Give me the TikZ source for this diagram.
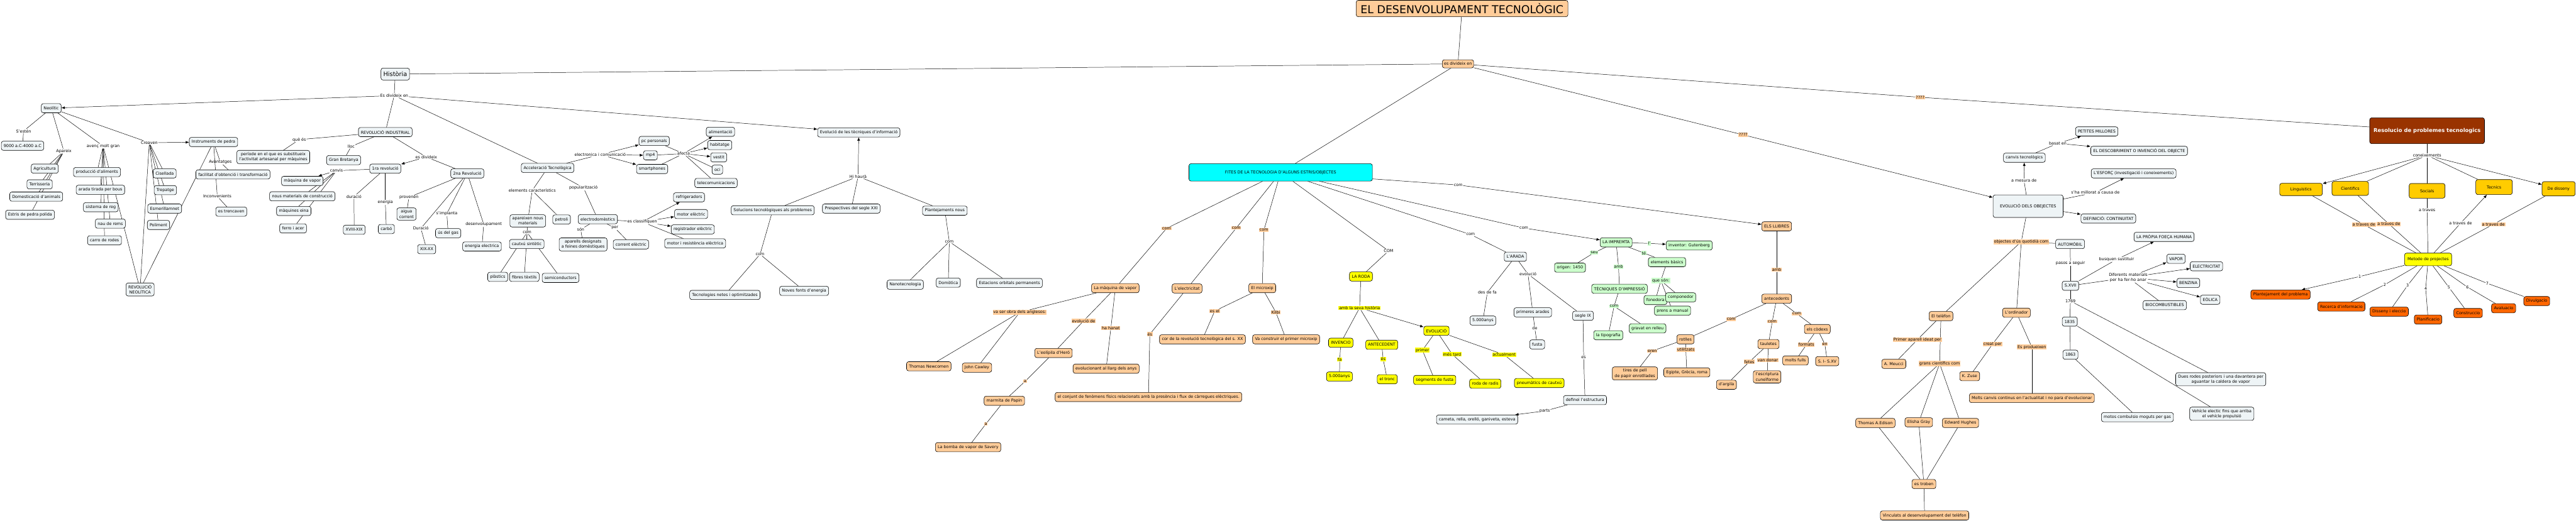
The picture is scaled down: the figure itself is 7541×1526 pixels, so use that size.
\documentclass[tikz,border=0pt]{standalone}
\usepackage{fontspec}
\setmainfont{DejaVu Sans}
\usetikzlibrary{arrows.meta,backgrounds}
\definecolor{colBlue}{HTML}{EEF4F6}
\definecolor{colPeach}{HTML}{FFCC99}
\definecolor{colYel}{HTML}{FFFF00}
\definecolor{colGreen}{HTML}{CCFFCC}
\definecolor{colCyan}{HTML}{00FFFF}
\definecolor{colBrown}{HTML}{993300}
\definecolor{colGold}{HTML}{FFCC00}
\definecolor{colOrange}{HTML}{FF6600}
\tikzset{cpt/.style={draw,line width=1.1pt,rounded corners=6pt,fill=colBlue,align=center,inner xsep=7pt,inner ysep=6pt,minimum height=27pt,font=\fontsize{11.8}{15}\selectfont},
  pch/.style={cpt,fill=colPeach},
  yel/.style={cpt,fill=colYel},
  grn/.style={cpt,fill=colGreen},
  gold/.style={cpt,fill=colGold,minimum height=41pt},
  stepbox/.style={cpt,fill=colOrange},
  lbl/.style={inner sep=1.5pt,align=center,font=\fontsize{11.8}{15}\selectfont},
  lpch/.style={lbl,fill=colPeach},
  lyel/.style={lbl,fill=colYel},
  lgrn/.style={lbl,fill=colGreen},
  arr/.style={-{Latex[length=10pt,width=8pt]}}
}
\begin{document}
\begin{tikzpicture}[x=1pt,y=-1pt]
  \useasboundingbox (0,0) rectangle (7541,1526);

  % Historia
  \node[cpt,font=\fontsize{18}{21}\selectfont,minimum height=35pt] (hist) at (1157,217) {Història};
  \node[lbl] (ldiv) at (1154,280) {Es divideix en};

  % Neolitic
  \node[cpt] (neo) at (150,317) {Neolític};
  \node[lbl] (lsest) at (69,384) {S'estén};
  \node[cpt] (d9000) at (66,427) {9000 a.C-4000 a.C};
  \node[lbl] (lapar) at (187,443) {Apareix};
  \node[lbl] (lavenc) at (302,428) {avenç molt gran};
  \node[lbl] (lcrea) at (437,418) {Creaven};
  \node[cpt] (instr) at (625,416) {Instruments de pedra};
  \node[cpt] (agri) at (131,494) {Agricultura};
  \node[cpt] (terr) at (116,540) {Terrisseria};
  \node[cpt] (dome) at (106,576) {Domesticació d'animals};
  \node[cpt] (estr) at (88,629) {Estris de pedra polida};
  \node[cpt] (prod) at (284,504) {producció d'aliments};
  \node[cpt] (arada) at (294,556) {arada tirada per bous};
  \node[cpt] (reg) at (295,607) {sistema de reg};
  \node[cpt] (nau) at (323,655) {nau de rems};
  \node[cpt] (carro) at (306,704) {carro de rodes};
  \node[cpt] (cis) at (482,508) {Cisellada};
  \node[cpt] (trep) at (484,557) {Trepatge};
  \node[cpt] (esm) at (482,611) {Esmerillamnet};
  \node[cpt] (poli) at (464,659) {Poliment};
  \node[lbl] (lavan) at (645,475) {Avantatges};
  \node[cpt] (facil) at (682,511) {facilitat d'obtenció i transformació};
  \node[lbl] (linc) at (636,575) {Inconvenients};
  \node[cpt] (trenc) at (677,620) {es trencaven};
  \node[cpt] (revneo) at (410,848) {REVOLUCIÓ\\NEOLÍTICA};

  % Revolucio industrial
  \node[cpt] (revind) at (1128,387) {REVOLUCIÓ INDUSTRIAL};
  \node[lbl] (lque) at (876,409) {què és};
  \node[cpt] (period) at (800,460) {període en el que es substitueix\\l'activitat artesanal per màquines};
  \node[lbl] (lloc) at (1028,429) {lloc};
  \node[cpt] (gran) at (1006,469) {Gran Bretanya};
  \node[lbl] (ldiv2) at (1248,460) {es divideix};
  \node[cpt] (rev1) at (1128,494) {1ra revolució};
  \node[lbl] (lcanv) at (985,500) {canvis};
  \node[cpt] (maqv) at (885,530) {màquina de vapor};
  \node[cpt] (nousm) at (885,575) {nous materials de construcció};
  \node[cpt] (maqe) at (860,618) {màquines eina};
  \node[cpt] (ferro) at (858,669) {ferro i acer};
  \node[lbl] (ldur) at (1036,576) {duració};
  \node[cpt] (xviii) at (1037,673) {XVIII-XIX};
  \node[lbl] (lener) at (1128,593) {energia};
  \node[cpt] (carbo) at (1131,671) {carbó};
  \node[cpt] (rev2) at (1368,508) {2na Revolució};
  \node[lbl] (lprov) at (1197,578) {provenen};
  \node[cpt] (aigua) at (1190,627) {aigua\\corrent};
  \node[lbl] (ldur2) at (1232,669) {Duració};
  \node[cpt] (xix) at (1249,730) {XIX-XX};
  \node[lbl] (limpl) at (1308,626) {s'implanta};
  \node[cpt] (gas) at (1312,683) {ús del gas};
  \node[lbl] (ldes) at (1416,657) {desenvolupament};
  \node[cpt] (enel) at (1411,722) {energia electrica};

  % Acceleracio tecnologica
  \node[cpt] (accel) at (1603,492) {Acceleració Tecnològica};
  \node[lbl] (lelem) at (1558,558) {elements característics};
  \node[lbl] (lpop) at (1708,550) {popularització};
  \node[cpt] (apar) at (1545,647) {apareixen nous\\materials};
  \node[cpt] (petr) at (1644,643) {petroli};
  \node[lbl] (lcom1) at (1543,681) {com};
  \node[cpt] (caut) at (1542,715) {cautxú sintètic};
  \node[cpt] (plas) at (1457,811) {plàstics};
  \node[cpt] (fibr) at (1535,811) {fibres tèxtils};
  \node[cpt] (semi) at (1641,814) {semiconductors};
  \node[cpt] (elec) at (1750,642) {electrodomèstics};
  \node[lbl] (lson) at (1700,672) {són};
  \node[lbl] (lper) at (1800,668) {per};
  \node[cpt] (apare) at (1707,716) {aparells designats\\a feines domèstiques};
  \node[cpt] (corr) at (1847,716) {corrent elèctric};
  \node[lbl] (lclas) at (1880,650) {es classifiquen};
  \node[cpt] (refr) at (2017,578) {refrigeradors};
  \node[cpt] (motor) at (2023,627) {motor elèctric};
  \node[cpt] (regi) at (2028,672) {registrador elèctric};
  \node[cpt] (motr) at (2035,713) {motor i resistència elèctrica};
  \node[lbl] (lelecom) at (1757,453) {electronica i comunicació};
  \node[cpt] (pc) at (1915,413) {pc personals};
  \node[cpt] (mp) at (1904,455) {mp4};
  \node[cpt] (smart) at (1909,495) {smartphones};
  \node[lbl] (lafec) at (2001,450) {afecta};
  \node[cpt] (alim) at (2109,386) {alimentació};
  \node[cpt] (habi) at (2107,425) {habitatge};
  \node[cpt] (vest) at (2104,461) {vestit};
  \node[cpt] (oci) at (2100,497) {oci};
  \node[cpt] (tele) at (2096,536) {telecomunicacions};

  % Evolucio de les tecniques
  \node[cpt] (evtec) at (2514,388) {Evolució de les tècniques d'informació};
  \node[lbl] (lhi) at (2512,517) {Hi haurà};
  \node[cpt] (solu) at (2262,616) {Solucions tecnològiques als problemes};
  \node[cpt] (pers) at (2492,611) {Prespectives del segle XXI};
  \node[cpt] (plan) at (2766,617) {Plantejaments nous};
  \node[lbl] (lcom2) at (2225,745) {com};
  \node[cpt] (netes) at (2122,864) {Tecnologies netes i optimitzades};
  \node[cpt] (noves) at (2354,852) {Noves fonts d'energia};
  \node[lbl] (lcom3) at (2779,708) {com};
  \node[cpt] (nano) at (2650,834) {Nanotecnologia};
  \node[cpt] (domo) at (2776,828) {Domòtica};
  \node[cpt] (estac) at (2955,829) {Estacions orbitals permanents};

  % Title
  \node[pch,font=\fontsize{32}{36}\selectfont,minimum width=620pt,minimum height=48pt] (title) at (4280,25) {EL DESENVOLUPAMENT TECNOLÒGIC};
  \node[pch,minimum height=24pt,inner xsep=5pt] (div) at (4268,187) {es divideix en};

  % Fites
  \node[cpt,fill=colCyan,minimum width=537pt,minimum height=51pt] (fites) at (3749,505) {FITES DE LA TECNOLOGIA D'ALGUNS ESTRIS/OBJECTES};
  \node[lpch] (lc1) at (3415,669) {com};
  \node[lpch] (lc2) at (3619,668) {com};
  \node[lpch] (lc3) at (3700,674) {com};
  \node[pch] (maq) at (3265,844) {La màquina de vapor};
  \node[pch] (electr) at (3475,845) {L'electricitat};
  \node[pch] (micro) at (3695,844) {El microxip};
  \node[lpch] (lobra) at (2985,915) {va ser obra dels anglesos:};
  \node[pch] (newc) at (2719,1073) {Thomas Newcomen};
  \node[pch] (cawl) at (2860,1077) {John Cawley};
  \node[lpch] (levo) at (3172,940) {evolució de};
  \node[pch] (eoli) at (3084,1034) {L'eolípila d'Heró};
  \node[lpch] (la1) at (3001,1117) {a};
  \node[pch] (marm) at (2940,1174) {marmita de Papin};
  \node[lpch] (la2) at (2886,1242) {a};
  \node[pch] (bomb) at (2834,1310) {La bomba de vapor de Savery};
  \node[lpch] (lhan) at (3252,961) {ha hanat};
  \node[pch] (evol) at (3238,1080) {evolucionant al llarg dels anys};
  \node[lpch] (les) at (3366,979) {és};
  \node[pch] (conj) at (3362,1163) {el conjunt de fenòmens físics relacionats amb la presència i flux de càrregues elèctriques.};
  \node[lpch] (lesel) at (3556,911) {es el};
  \node[pch] (cor) at (3520,994) {cor de la revolució tecnològica del s. XX};
  \node[lpch] (lkil) at (3735,915) {Kilbi};
  \node[pch] (vacon) at (3765,994) {Va construir el primer microxip};

  % La roda
  \node[lbl] (lCOM) at (4065,735) {COM};
  \node[yel] (roda) at (3984,810) {LA RODA};
  \node[lyel] (lhist) at (3980,902) {amb la seva història};
  \node[yel] (inv) at (3925,1004) {INVENCIO};
  \node[lyel] (lfa) at (3922,1053) {fa};
  \node[yel] (anys1) at (3921,1103) {5.000anys};
  \node[yel] (ante) at (4045,1010) {ANTECEDENT};
  \node[lyel] (les2) at (4049,1052) {és};
  \node[yel] (tronc) at (4061,1111) {el tronc};
  \node[yel] (evo) at (4205,969) {EVOLUCIÓ};
  \node[lyel] (lprim) at (4164,1026) {primer};
  \node[lyel] (lmes) at (4251,1038) {més tard};
  \node[lyel] (lact) at (4403,1039) {actualment};
  \node[yel] (segm) at (4200,1113) {segments de fusta};
  \node[yel] (radis) at (4348,1124) {roda de radis};
  \node[yel] (pneu) at (4506,1122) {pneumàtics de cautxú};

  % L'arada
  \node[lbl] (lc4) at (4305,687) {com};
  \node[cpt] (aradab) at (4436,752) {L'ARADA};
  \node[lbl] (ldes2) at (4354,857) {des de fa};
  \node[cpt] (anys2) at (4341,939) {5.000anys};
  \node[lbl] (levol) at (4473,803) {evolució};
  \node[cpt] (prim) at (4487,915) {primeres arades};
  \node[lbl] (lde) at (4493,962) {de};
  \node[cpt] (fusta) at (4500,1009) {fusta};
  \node[cpt] (segle) at (4634,925) {segle IX};
  \node[lbl] (les3) at (4636,1047) {es};
  \node[cpt] (defi) at (4640,1172) {definei l'estructura};
  \node[lbl] (lparts) at (4522,1204) {parts};
  \node[cpt] (camet) at (4324,1229) {cameta, rella, orelló, ganiveta, esteva};

  % La impremta
  \node[lbl] (lc5) at (4461,668) {com};
  \node[grn] (impr) at (4731,710) {LA IMPREMTA};
  \node[lgrn] (ll) at (4828,713) {l'};
  \node[grn] (guten) at (4945,719) {inventor: Gutenberg};
  \node[lgrn] (lseu) at (4667,740) {seu};
  \node[grn] (orig) at (4596,784) {origen: 1450};
  \node[lgrn] (lamb) at (4738,781) {amb};
  \node[grn] (tecn) at (4741,846) {TÈCNIQUES D'IMPRESSIÓ};
  \node[lgrn] (lte) at (4812,741) {té};
  \node[grn] (elem) at (4880,768) {elements bàsics};
  \node[lgrn] (lque2) at (4862,822) {que són:};
  \node[grn] (fone) at (4846,879) {fonedora};
  \node[grn] (compo) at (4920,871) {componedor};
  \node[grn] (prens) at (4896,910) {prens a manual};
  \node[lgrn] (lc6) at (4725,897) {com};
  \node[grn] (tipo) at (4708,982) {la tipografia};
  \node[grn] (grav) at (4823,962) {gravat en relleu};

  % Els llibres
  \node[lbl] (lc7) at (4269,542) {com};
  \node[pch] (llib) at (5201,663) {ELS LLIBRES};
  \node[lpch] (lamb2) at (5201,790) {amb};
  \node[pch] (ante2) at (5201,875) {antecedents};
  \node[lpch] (lc8) at (5068,935) {com};
  \node[lpch] (lc9) at (5188,942) {com};
  \node[lpch] (lc10) at (5260,919) {com};
  \node[pch] (rotl) at (4934,994) {rotlles};
  \node[lpch] (leren) at (4837,1028) {eren};
  \node[lpch] (lutil) at (4935,1024) {utilitzats};
  \node[pch] (tires) at (4786,1094) {tires de pell\\de papir enrotllades};
  \node[pch] (egip) at (4938,1091) {Egipte, Grècia, roma};
  \node[pch] (taul) at (5177,1008) {tauletes};
  \node[pch] (codx) at (5320,964) {els còdexs};
  \node[lpch] (lfet) at (5121,1060) {fetes};
  \node[lpch] (lvan) at (5175,1055) {van donar};
  \node[pch] (argi) at (5054,1127) {d'argila};
  \node[pch] (escr) at (5173,1104) {l'escriptura\\cuneïforme};
  \node[lpch] (lform) at (5288,1010) {formats};
  \node[lpch] (len) at (5342,1008) {en};
  \node[pch] (fulls) at (5256,1056) {molts fulls};
  \node[pch] (segl) at (5349,1058) {S. I- S.XV};

  % Evolucio dels objectes
  \node[lpch] (lq1) at (5621,285) {????};
  \node[lpch] (lq2) at (5103,395) {????};
  \node[cpt,minimum width=205pt,minimum height=66pt] (evobj) at (5937,604) {EVOLUCIÓ DELS OBEJECTES};
  \node[lbl] (lmes2) at (5925,529) {a mesura de};
  \node[cpt] (canv) at (5926,462) {canvis tecnològics};
  \node[lbl] (lbas) at (6024,420) {basat en};
  \node[cpt] (pet) at (6138,385) {PETITES MILLORES};
  \node[cpt] (desc) at (6262,442) {EL DESCOBRIMENT O INVENCIÓ DEL OBJECTE};
  \node[cpt] (esf) at (6246,508) {L'ESFORÇ (investigació i coneixements)};
  \node[lbl] (lmill) at (6134,564) {s'ha millorat a causa de};
  \node[cpt] (defin) at (6172,640) {DEFINICIÓ: CONTINUITAT};
  \node[lpch] (lobj) at (5917,708) {objectes d'ús quotidià com};
  \node[cpt] (auto) at (6060,715) {AUTOMÓBIL};
  \node[lbl] (lpas) at (6061,771) {pasos a seguir};
  \node[cpt] (sxvii) at (6061,837) {S.XVII};
  \node[lbl] (lbus) at (6196,760) {busquen sustituir};
  \node[cpt] (propia) at (6335,694) {LA PRÒPIA FOEÇA HUMANA};
  \node[lbl] (ldif) at (6230,813) {Diferents materials\\per ha fer-ho anar};
  \node[cpt] (vap) at (6370,758) {VAPOR};
  \node[cpt] (elct) at (6459,780) {ELECTRICITAT};
  \node[cpt] (benz) at (6406,829) {BENZINA};
  \node[cpt] (eoli2) at (6470,878) {EÒLICA};
  \node[cpt] (bioc) at (6337,894) {BIOCOMBUSTIBLES};
  \node[lbl] (l1769) at (6061,882) {1769};
  \node[cpt] (y1835) at (6059,942) {1835};
  \node[cpt] (y1863) at (6061,1039) {1863};
  \node[cpt] (motos) at (6257,1222) {motos combulsio moguts per gas};
  \node[cpt] (dues) at (6501,1111) {Dues rodes posteriors i una davantera per\\aguantar la caldera de vapor};
  \node[cpt] (vehi) at (6504,1212) {Vehícle electic fins que arriba\\el vehícle propulsió};

  % Telefon i ordinador
  \node[pch] (telef) at (5682,926) {El telèfon};
  \node[lpch] (lprima) at (5613,995) {Primer aparell ideat per};
  \node[pch] (meuc) at (5544,1066) {A. Meucci};
  \node[lpch] (lgran) at (5678,1065) {grans científics com};
  \node[pch] (edis) at (5490,1239) {Thomas A.Edison};
  \node[pch] (gray) at (5617,1237) {Elisha Gray};
  \node[pch] (hugh) at (5739,1239) {Edward Hughes};
  \node[pch] (trob) at (5632,1418) {es troben};
  \node[pch] (vinc) at (5634,1510) {Vinculats al desenvolupament del telèfon};
  \node[pch] (ordi) at (5903,916) {L'ordinador};
  \node[lpch] (lcre) at (5833,1008) {creat per};
  \node[pch] (zuse) at (5766,1102) {K. Zuse};
  \node[lpch] (lprod) at (5948,1017) {Es produeixen};
  \node[pch] (molts) at (5948,1166) {Molts canvis continus en l'actualitat i no para d'evolucionar};

  % Resolucio de problemes
  \node[cpt,fill=colBrown,text=white,font=\fontsize{15.5}{18}\selectfont\bfseries,minimum width=336pt,minimum height=76pt] (reso) at (7105,383) {Resolucio de problemes tecnologics};
  \node[lbl] (lcon) at (7105,455) {coneixements};
  \node[gold,minimum width=125pt,minimum height=36pt] (ling) at (6736,555) {Linguistics};
  \node[gold,minimum width=107pt] (cien) at (6880,552) {Cientifics};
  \node[gold,minimum width=105pt,minimum height=43pt] (soci) at (7105,559) {Socials};
  \node[gold,minimum width=107pt,minimum height=44pt] (tecs) at (7301,548) {Tecnics};
  \node[gold,minimum width=97pt,minimum height=42pt] (diss) at (7490,553) {De disseny};
  \node[yel,minimum width=138pt,minimum height=37pt] (meto) at (7108,760) {Metode de projectes};
  \node[lpch] (lt1) at (6920,658) {a traves de};
  \node[lpch] (lt2) at (6993,656) {a traves de};
  \node[lbl] (lt3) at (7105,616) {a traves};
  \node[lbl] (lt4) at (7203,654) {a traves de};
  \node[lpch] (lt5) at (7299,657) {a traves de};
  \node[lbl] (ln1) at (6908,810) {1};
  \node[lbl] (ln2) at (6981,834) {2};
  \node[lbl] (ln3) at (7048,836) {3};
  \node[lbl] (ln4) at (7101,845) {4};
  \node[lbl] (ln5) at (7169,842) {5};
  \node[lbl] (ln6) at (7223,841) {6};
  \node[lbl] (ln7) at (7281,830) {7};
  \node[stepbox] (s1) at (6676,863) {Plantejament del problema};
  \node[stepbox] (s2) at (6854,898) {Recerca d'informacio};
  \node[stepbox] (s3) at (6994,913) {Disseny i eleccio};
  \node[stepbox] (s4) at (7108,936) {Planificacio};
  \node[stepbox] (s5) at (7225,917) {Construccio};
  \node[stepbox] (s6) at (7329,903) {Avaluacio};
  \node[stepbox] (s7) at (7426,882) {Divulgacio};

  \begin{pgfonlayer}{background}
  \fill[white] (0,0) rectangle (7541,1526);
  \begin{scope}[line width=0.9pt]
    % Historia
    \draw (hist) -- (ldiv);
    \draw (hist) -- (div);
    \draw[arr] (ldiv) -- (neo);
    \draw (ldiv) -- (revind);
    \draw (ldiv) -- (accel);
    \draw[arr] (ldiv) -- (evtec);

    % Neolitic
    \draw (neo) -- (lsest);
    \draw (lsest) -- (d9000);
    \draw (neo) -- (lapar);
    \draw (lapar) -- (agri);
    \draw (lapar) -- (terr);
    \draw (lapar) -- (dome);
    \draw (lapar) -- (estr);
    \draw (neo) -- (lavenc);
    \draw (lavenc) -- (prod);
    \draw (lavenc) -- (arada);
    \draw (lavenc) -- (reg);
    \draw (lavenc) -- (nau);
    \draw (lavenc) -- (carro);
    \draw (lavenc) -- (revneo);
    \draw (neo) -- (lcrea);
    \draw[arr] (lcrea) -- (instr);
    \draw (lcrea) -- (cis);
    \draw (lcrea) -- (trep);
    \draw (lcrea) -- (esm);
    \draw (lcrea) -- (poli);
    \draw (lcrea) -- (revneo);
    \draw (instr) -- (lavan);
    \draw (lavan) -- (facil);
    \draw (instr) -- (linc);
    \draw (linc) -- (trenc);
    \draw (instr) -- (revneo);

    % Revolucio industrial
    \draw (revind) -- (lque);
    \draw (lque) -- (period);
    \draw (revind) -- (lloc);
    \draw (lloc) -- (gran);
    \draw (revind) -- (ldiv2);
    \draw[arr] (ldiv2) -- (rev1);
    \draw (ldiv2) -- (rev2);
    \draw (rev1) -- (lcanv);
    \draw[arr] (lcanv) -- (maqv);
    \draw (lcanv) -- (nousm);
    \draw (lcanv) -- (maqe);
    \draw (lcanv) -- (ferro);
    \draw (rev1) -- (ldur);
    \draw (ldur) -- (xviii);
    \draw (rev1) -- (lener);
    \draw (lener) -- (carbo);
    \draw (rev2) -- (lprov);
    \draw (lprov) -- (aigua);
    \draw (rev2) -- (ldur2);
    \draw (ldur2) -- (xix);
    \draw (rev2) -- (limpl);
    \draw (limpl) -- (gas);
    \draw (rev2) -- (ldes);
    \draw (ldes) -- (enel);

    % Acceleracio tecnologica
    \draw (accel) -- (lelecom);
    \draw[arr] (lelecom) -- (pc);
    \draw[arr] (lelecom) -- (mp);
    \draw[arr] (lelecom) -- (smart);
    \draw (pc) -- (lafec);
    \draw (mp) -- (lafec);
    \draw (smart) -- (lafec);
    \draw[arr] (lafec) -- (alim);
    \draw[arr] (lafec) -- (habi);
    \draw[arr] (lafec) -- (vest);
    \draw (lafec) -- (oci);
    \draw (lafec) -- (tele);
    \draw (accel) -- (lelem);
    \draw (lelem) -- (apar);
    \draw (lelem) -- (petr);
    \draw (apar) -- (lcom1);
    \draw (lcom1) -- (caut);
    \draw (lcom1) -- (plas);
    \draw (lcom1) -- (fibr);
    \draw (lcom1) -- (semi);
    \draw (accel) -- (lpop);
    \draw (lpop) -- (elec);
    \draw (elec) -- (lson);
    \draw (lson) -- (apare);
    \draw (elec) -- (lper);
    \draw (lper) -- (corr);
    \draw (elec) -- (lclas);
    \draw[arr] (lclas) -- (refr);
    \draw[arr] (lclas) -- (motor);
    \draw[arr] (lclas) -- (regi);
    \draw (lclas) -- (motr);

    % Evolucio de les tecniques
    \draw[arr] (lhi) -- (evtec);
    \draw (lhi) -- (solu);
    \draw (lhi) -- (pers);
    \draw (lhi) -- (plan);
    \draw (solu) -- (lcom2);
    \draw (lcom2) -- (netes);
    \draw (lcom2) -- (noves);
    \draw (plan) -- (lcom3);
    \draw (lcom3) -- (nano);
    \draw (lcom3) -- (domo);
    \draw (lcom3) -- (estac);

    % Title
    \draw (title) -- (div);
    \draw (div) -- (fites);
    \draw (div) -- (lq1);
    \draw (lq1) -- (reso);
    \draw (div) -- (lq2);
    \draw[arr] (lq2) -- (evobj);

    % Fites
    \draw (fites) -- (lc1);
    \draw (lc1) -- (maq);
    \draw (fites) -- (lc2);
    \draw (lc2) -- (electr);
    \draw (fites) -- (lc3);
    \draw (lc3) -- (micro);
    \draw (maq) -- (lobra);
    \draw (lobra) -- (newc);
    \draw (lobra) -- (cawl);
    \draw (maq) -- (levo);
    \draw (levo) -- (eoli);
    \draw (eoli) -- (la1);
    \draw (la1) -- (marm);
    \draw (marm) -- (la2);
    \draw (la2) -- (bomb);
    \draw (maq) -- (lhan);
    \draw (lhan) -- (evol);
    \draw (electr) -- (les);
    \draw (les) -- (conj);
    \draw (micro) -- (lesel);
    \draw (lesel) -- (cor);
    \draw (micro) -- (lkil);
    \draw (lkil) -- (vacon);

    % La roda
    \draw (fites) -- (lCOM);
    \draw (lCOM) -- (roda);
    \draw (roda) -- (lhist);
    \draw (lhist) -- (inv);
    \draw (lhist) -- (ante);
    \draw[arr] (lhist) -- (evo);
    \draw (inv) -- (lfa);
    \draw (lfa) -- (anys1);
    \draw (ante) -- (les2);
    \draw (les2) -- (tronc);
    \draw (evo) -- (lprim);
    \draw (lprim) -- (segm);
    \draw (evo) -- (lmes);
    \draw (lmes) -- (radis);
    \draw (evo) -- (lact);
    \draw (lact) -- (pneu);

    % L'arada
    \draw (fites) -- (lc4);
    \draw (lc4) -- (aradab);
    \draw (aradab) -- (ldes2);
    \draw (ldes2) -- (anys2);
    \draw (aradab) -- (levol);
    \draw (levol) -- (prim);
    \draw (levol) -- (segle);
    \draw (prim) -- (lde);
    \draw (lde) -- (fusta);
    \draw (segle) -- (les3);
    \draw (les3) -- (defi);
    \draw (defi) -- (lparts);
    \draw[arr] (lparts) -- (camet);

    % La impremta
    \draw (fites) -- (lc5);
    \draw[arr] (lc5) -- (impr);
    \draw (impr) -- (ll);
    \draw[arr] (ll) -- (guten);
    \draw (impr) -- (lseu);
    \draw (lseu) -- (orig);
    \draw (impr) -- (lamb);
    \draw (lamb) -- (tecn);
    \draw (impr) -- (lte);
    \draw (lte) -- (elem);
    \draw (elem) -- (lque2);
    \draw (lque2) -- (fone);
    \draw (lque2) -- (compo);
    \draw (lque2) -- (prens);
    \draw (tecn) -- (lc6);
    \draw (lc6) -- (tipo);
    \draw (lc6) -- (grav);

    % Els llibres
    \draw (fites) -- (lc7);
    \draw[arr] (lc7) -- (llib);
    \draw (llib) -- (lamb2);
    \draw (lamb2) -- (ante2);
    \draw (ante2) -- (lc8);
    \draw (lc8) -- (rotl);
    \draw (ante2) -- (lc9);
    \draw (lc9) -- (taul);
    \draw (ante2) -- (lc10);
    \draw (lc10) -- (codx);
    \draw (rotl) -- (leren);
    \draw (leren) -- (tires);
    \draw (rotl) -- (lutil);
    \draw (lutil) -- (egip);
    \draw (taul) -- (lfet);
    \draw (lfet) -- (argi);
    \draw (taul) -- (lvan);
    \draw (lvan) -- (escr);
    \draw (codx) -- (lform);
    \draw (lform) -- (fulls);
    \draw (codx) -- (len);
    \draw (len) -- (segl);

    % Evolucio dels objectes
    \draw (evobj) -- (lmes2);
    \draw[arr] (lmes2) -- (canv);
    \draw (canv) -- (lbas);
    \draw[arr] (lbas) -- (pet);
    \draw[arr] (lbas) -- (desc);
    \draw (evobj) -- (lmill);
    \draw[arr] (lmill) -- (esf);
    \draw[arr] (evobj) -- (defin);
    \draw (evobj) -- (lobj);
    \draw (lobj) -- (auto);
    \draw (lobj) -- (telef);
    \draw (lobj) -- (ordi);
    \draw (auto) -- (lpas);
    \draw (lpas) -- (sxvii);
    \draw (sxvii) -- (lbus);
    \draw[arr] (lbus) -- (propia);
    \draw (sxvii) -- (ldif);
    \draw[arr] (ldif) -- (vap);
    \draw[arr] (ldif) -- (elct);
    \draw[arr] (ldif) -- (benz);
    \draw[arr] (ldif) -- (eoli2);
    \draw (ldif) -- (bioc);
    \draw (sxvii) -- (l1769);
    \draw (l1769) -- (y1835);
    \draw (l1769) -- (dues);
    \draw (y1835) -- (y1863);
    \draw (y1835) -- (vehi);
    \draw (y1863) -- (motos);

    % Telefon i ordinador
    \draw (telef) -- (lprima);
    \draw (lprima) -- (meuc);
    \draw (telef) -- (lgran);
    \draw (lgran) -- (edis);
    \draw (lgran) -- (gray);
    \draw (lgran) -- (hugh);
    \draw (edis) -- (trob);
    \draw (gray) -- (trob);
    \draw (hugh) -- (trob);
    \draw (trob) -- (vinc);
    \draw (ordi) -- (lcre);
    \draw (lcre) -- (zuse);
    \draw (ordi) -- (lprod);
    \draw (lprod) -- (molts);

    % Resolucio de problemes
    \draw (reso) -- (lcon);
    \draw[arr] (lcon) -- (ling);
    \draw (lcon) -- (cien);
    \draw (lcon) -- (soci);
    \draw (lcon) -- (tecs);
    \draw[arr] (lcon) -- (diss);
    \draw (ling) -- (lt1);
    \draw (lt1) -- (meto);
    \draw (cien) -- (lt2);
    \draw (lt2) -- (meto);
    \draw (soci) -- (lt3);
    \draw (lt3) -- (meto);
    \draw (meto) -- (lt4);
    \draw[arr] (lt4) -- (tecs);
    \draw (diss) -- (lt5);
    \draw (lt5) -- (meto);
    \draw (meto) -- (ln1);
    \draw[arr] (ln1) -- (s1);
    \draw (meto) -- (ln2);
    \draw (ln2) -- (s2);
    \draw (meto) -- (ln3);
    \draw (ln3) -- (s3);
    \draw (meto) -- (ln4);
    \draw (ln4) -- (s4);
    \draw (meto) -- (ln5);
    \draw (ln5) -- (s5);
    \draw (meto) -- (ln6);
    \draw (ln6) -- (s6);
    \draw (meto) -- (ln7);
    \draw (ln7) -- (s7);
  \end{scope}
  \end{pgfonlayer}
\end{tikzpicture}
\end{document}
